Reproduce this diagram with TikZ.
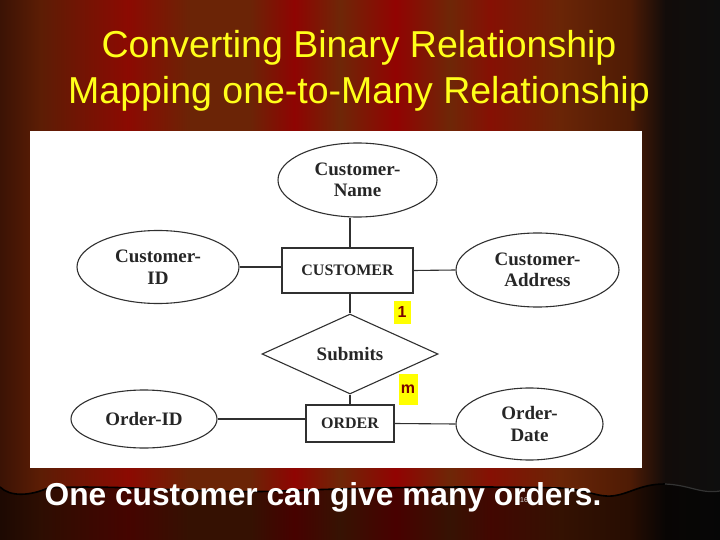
\documentclass[tikz,border=0pt]{standalone}
\usepackage{fontspec}
\setmainfont{Liberation Serif}
\setsansfont{Liberation Sans}
\usepackage{xcolor}
\usepackage{tikz}
\usetikzlibrary{shapes.geometric}

\definecolor{cA}{HTML}{3B1305}
\definecolor{cB}{HTML}{5C1D05}
\definecolor{cC}{HTML}{8C0A02}
\definecolor{cD}{HTML}{6B2406}
\definecolor{cE}{HTML}{8F0402}
\definecolor{cF}{HTML}{6E2707}
\definecolor{cG}{HTML}{920302}
\definecolor{cH}{HTML}{861004}
\definecolor{cI}{HTML}{6A2506}
\definecolor{cJ}{HTML}{4E1B05}
\definecolor{cK}{HTML}{120C0A}
\definecolor{cL}{HTML}{0E0E0E}
\definecolor{titleyellow}{HTML}{FFFF1A}
\definecolor{erline}{HTML}{303030}
\definecolor{ertext}{HTML}{262626}
\definecolor{cardbg}{HTML}{FFFF00}
\definecolor{cardtext}{HTML}{7A0000}

\begin{document}
\begin{tikzpicture}[x=1pt,y=-1pt,
    attr/.style={draw=erline, line width=1.1pt, ellipse, inner sep=0pt, align=center,
        text=ertext, font=\fontsize{19}{21.5}\selectfont\bfseries},
    ent/.style={draw=erline, line width=1.1pt, rectangle, inner sep=0pt,
        text=ertext, font=\fontsize{16}{18}\selectfont\bfseries},
    rel/.style={draw=erline, line width=1.1pt, diamond, inner sep=0pt,
        text=ertext, font=\fontsize{19}{21.5}\selectfont\bfseries},
    card/.style={fill=cardbg, text=cardtext, inner sep=0pt, minimum width=17pt,
        font=\sffamily\bfseries\fontsize{16}{16}\selectfont},
    conn/.style={draw=erline, line width=1.1pt}]
    \useasboundingbox (0,0) rectangle (720,540);

    \foreach \xa/\xb/\ca/\cb in {0/40/cA/cB, 40/128/cB/cC, 128/190/cC/cD, 190/250/cD/cD,
            250/294/cD/cE, 294/340/cE/cF, 340/395/cF/cG, 395/450/cG/cF, 450/490/cF/cH,
            490/560/cH/cI, 560/630/cI/cJ, 630/665/cJ/cK, 665/720/cK/cL} {
        \shade[left color=\ca, right color=\cb] (\xa,0) rectangle (\xb+0.5,540);
    }
    \fill[black, opacity=0.5] (0,487) .. controls (10,497) and (30,496) .. (48,488)
        .. controls (120,484) and (200,494) .. (280,491)
        .. controls (380,487) and (480,486) .. (560,488)
        .. controls (590,490) and (595,497) .. (612,496)
        .. controls (630,494) and (640,484) .. (665,484)
        .. controls (690,485) and (700,494) .. (720,491) -- (720,540) -- (0,540) -- cycle;
    \draw[black, line width=1.6pt] (0,487) .. controls (10,497) and (30,496) .. (48,488)
        .. controls (120,484) and (200,494) .. (280,491)
        .. controls (380,487) and (480,486) .. (560,488)
        .. controls (590,490) and (595,497) .. (612,496)
        .. controls (630,494) and (640,484) .. (665,484);
    \draw[gray!40!black, line width=1.2pt] (665,484) .. controls (690,485) and (700,494) .. (720,491);

    \node[anchor=base, text=titleyellow, font=\sffamily\fontsize{37.5}{40}\selectfont] (title1)
        at (359,57.3) {Converting Binary Relationship};
    \node[anchor=base, text=titleyellow, font=\sffamily\fontsize{37.5}{40}\selectfont] (title2)
        at (359,103.3) {Mapping one-to-Many Relationship};

    \fill[white] (30,131) rectangle (642,468);

    \node[attr, minimum width=159pt, minimum height=74pt] (cname) at (357.5,180) {Customer-\\Name};
    \node[attr, minimum width=162pt, minimum height=73pt] (cid) at (158,267) {Customer-\\ID};
    \node[attr, minimum width=163pt, minimum height=74pt] (caddr) at (537.5,270) {Customer-\\Address};
    \node[ent, minimum width=131pt, minimum height=45pt] (cust) at (347.5,270.5) {CUSTOMER};
    \node[rel, minimum width=176pt, minimum height=68pt] (sub) at (350,354) {Submits};
    \node[ent, minimum width=88pt, minimum height=37pt] (ord) at (350,423.5) {ORDER};
    \node[attr, minimum width=146pt, minimum height=58pt] (oid) at (144,419) {Order-ID};
    \node[attr, minimum width=147pt, minimum height=72pt] (odate) at (529.5,424) {Order-\\Date};

    \draw[conn] (cname.south -| sub.north) -- (cust.north -| sub.north);
    \draw[conn] (cid.east) -- (cid.east -| cust.west);
    \draw[conn] (cust.east) -- (caddr.west);
    \draw[conn] (cust.south -| sub.north) -- (sub.north);
    \draw[conn] (sub.south) -- (ord.north);
    \draw[conn] (oid.east) -- (oid.east -| ord.west);
    \draw[conn] (ord.east) -- (odate.west);

    \node[card, minimum height=23pt] (one) at (402,312) {1};
    \node[card, minimum width=19pt, minimum height=31pt] (many) at (408,389) {m};

    \node[anchor=base, text=white, font=\sffamily\bfseries\fontsize{31.7}{36}\selectfont] (caption)
        at (323,505) {One customer can give many orders.};
    \node[text=white!75!gray, font=\sffamily\fontsize{7}{8}\selectfont, inner sep=0pt] (pagenum)
        at (524,500) {16};
\end{tikzpicture}
\end{document}
